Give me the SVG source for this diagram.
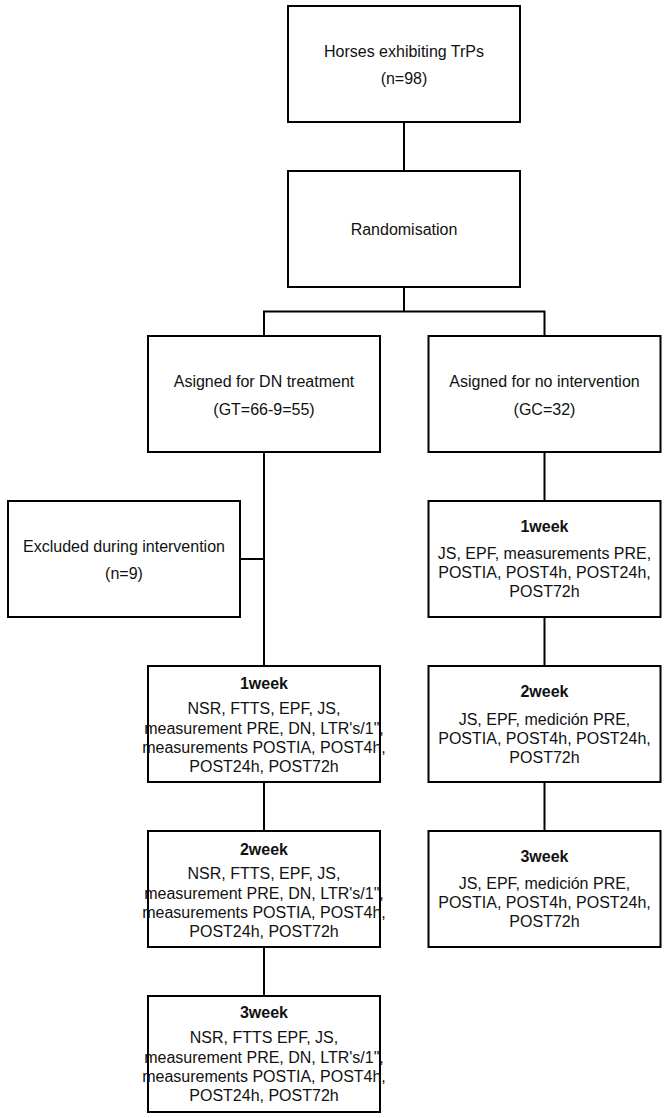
<svg xmlns="http://www.w3.org/2000/svg" width="668" height="1118" viewBox="0 0 668 1118">
<style>
rect.box{fill:#fff;stroke:#000;stroke-width:2}
text{font-family:"Liberation Sans",Arial,Helvetica,sans-serif;font-size:16px;fill:#111;text-anchor:middle}
text.b{font-weight:bold}
#connectors path{fill:none;stroke:#000;stroke-width:2}
</style>
<rect width="668" height="1118" fill="#fff"/>
<g id="connectors">
<path d="M404 122V171"/>
<path d="M404 287V311.5M264 311.5H544.5M264 310.5V336M544.5 310.5V336"/>
<path d="M264 452V666"/>
<path d="M240 559H264"/>
<path d="M264 782V831M264 947V996"/>
<path d="M544.5 452V501M544.5 617V666M544.5 782V831"/>
</g>
<g id="n-horses">
<rect class="box" x="288" y="6" width="232" height="116"/>
<text x="404" y="57">Horses exhibiting TrPs</text>
<text x="404" y="84">(n=98)</text>
</g>
<g id="n-random">
<rect class="box" x="288" y="171" width="232" height="116"/>
<text x="404" y="235">Randomisation</text>
</g>
<g id="n-dn">
<rect class="box" x="148" y="336" width="232" height="116"/>
<text x="264" y="387">Asigned for DN treatment</text>
<text x="264" y="415">(GT=66-9=55)</text>
</g>
<g id="n-noint">
<rect class="box" x="428.5" y="336" width="232" height="116"/>
<text x="544.5" y="387">Asigned for no intervention</text>
<text x="544.5" y="415">(GC=32)</text>
</g>
<g id="n-excluded">
<rect class="box" x="8" y="501" width="232" height="116"/>
<text x="124" y="552">Excluded during intervention</text>
<text x="124" y="579">(n=9)</text>
</g>
<g id="n-gc1">
<rect class="box" x="428.5" y="501" width="232" height="116"/>
<text class="b" x="544.5" y="531.5">1week</text>
<text x="544.5" y="559">JS, EPF, measurements PRE,</text>
<text x="544.5" y="578">POSTIA, POST4h, POST24h,</text>
<text x="544.5" y="597">POST72h</text>
</g>
<g id="n-gc2">
<rect class="box" x="428.5" y="666" width="232" height="116"/>
<text class="b" x="544.5" y="697">2week</text>
<text x="544.5" y="725">JS, EPF, medición PRE,</text>
<text x="544.5" y="744">POSTIA, POST4h, POST24h,</text>
<text x="544.5" y="763">POST72h</text>
</g>
<g id="n-gc3">
<rect class="box" x="428.5" y="831" width="232" height="116"/>
<text class="b" x="544.5" y="861.5">3week</text>
<text x="544.5" y="889">JS, EPF, medición PRE,</text>
<text x="544.5" y="908">POSTIA, POST4h, POST24h,</text>
<text x="544.5" y="927">POST72h</text>
</g>
<g id="n-gt1">
<rect class="box" x="148" y="666" width="232" height="116"/>
<text class="b" x="264" y="689">1week</text>
<text x="264" y="714">NSR, FTTS, EPF, JS,</text>
<text x="264" y="733.5">measurement PRE, DN, LTR's/1",</text>
<text x="264" y="752.5">measurements POSTIA, POST4h,</text>
<text x="264" y="771.5">POST24h, POST72h</text>
</g>
<g id="n-gt2">
<rect class="box" x="148" y="831" width="232" height="116"/>
<text class="b" x="264" y="855">2week</text>
<text x="264" y="879">NSR, FTTS, EPF, JS,</text>
<text x="264" y="898.5">measurement PRE, DN, LTR's/1",</text>
<text x="264" y="917.5">measurements POSTIA, POST4h,</text>
<text x="264" y="936.5">POST24h, POST72h</text>
</g>
<g id="n-gt3">
<rect class="box" x="148" y="996" width="232" height="116"/>
<text class="b" x="264" y="1018">3week</text>
<text x="264" y="1043">NSR, FTTS EPF, JS,</text>
<text x="264" y="1062.5">measurement PRE, DN, LTR's/1",</text>
<text x="264" y="1081.5">measurements POSTIA, POST4h,</text>
<text x="264" y="1100.5">POST24h, POST72h</text>
</g>
</svg>
